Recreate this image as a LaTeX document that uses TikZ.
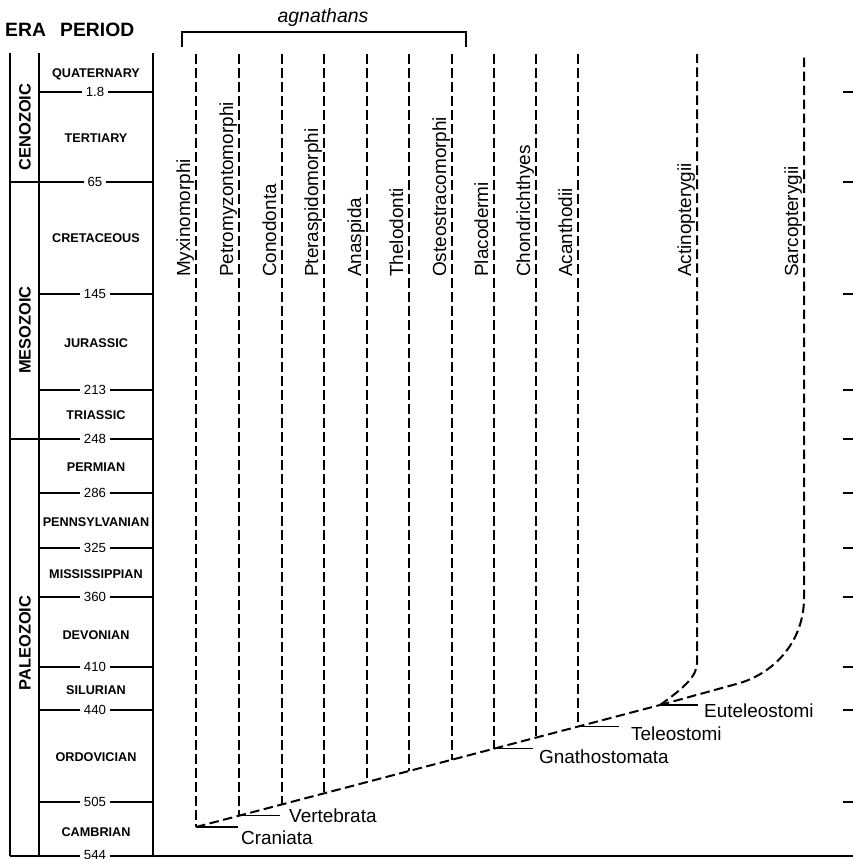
\documentclass[tikz,border=0pt]{standalone}
\usepackage{fontspec}
\setmainfont{Liberation Sans}
\begin{document}
\begin{tikzpicture}[x=1bp,y=-1bp,
  tbl/.style={line width=1.9bp},
  clade/.style={line width=2bp, dash pattern=on 9.5bp off 4.5bp},
  cltick/.style={line width=1.5bp},
  lbl/.style={font=\fontsize{19}{22}\selectfont, inner sep=0pt},
  vlbl/.style={lbl, rotate=90, anchor=base west},
  period/.style={font=\bfseries\fontsize{12.7}{14}\selectfont, inner sep=0pt, anchor=base},
  num/.style={font=\fontsize{13.3}{15}\selectfont, fill=white, inner xsep=4bp, inner ysep=0pt, anchor=base},
  era/.style={font=\bfseries\fontsize{16.5}{19}\selectfont, rotate=90, inner sep=0pt},
  head/.style={font=\bfseries\fontsize{19.4}{22}\selectfont, inner sep=0pt, anchor=base west}
]
\useasboundingbox (0,0) rectangle (853,859);
\fill[white] (0,0) rectangle (853,859);

% headings
\node[head] (hera) at (5,36) {ERA};
\node[head] (hper) at (60,36) {PERIOD};

% table frame
\coordinate (tl) at (10,53);
\coordinate (bl) at (10,856);
\coordinate (tm) at (39,53);
\coordinate (bm) at (39,856);
\coordinate (tr) at (153,53);
\coordinate (br) at (153,856);
\coordinate (bre) at (853,856);
\draw[tbl] (tl) -- (bl);
\draw[tbl] (tm) -- (bm);
\draw[tbl] (tr) -- (br);
\draw[tbl] (bl) -- (bre);

% era boundaries
\draw[tbl] (10,182) -- (153,182);
\draw[tbl] (10,439) -- (153,439);
% period boundaries
\foreach \y in {92,294,390,493,548,597,667,710,802}{
  \draw[tbl] (39,\y) -- (153,\y);
}
% right ticks
\foreach \y in {92,182,294,390,439,493,548,597,667,710,802}{
  \draw[cltick] (843,\y) -- (853,\y);
}
% boundary numbers
\foreach \y/\t in {92/1.8,182/65,294/145,390/213,439/248,493/286,548/325,597/360,667/410,710/440,802/505,855/544}{
  \node[num] at (95,\y+4.7) {\t};
}
% period names
\foreach \y/\t in {73/QUATERNARY,138/TERTIARY,238/CRETACEOUS,343/JURASSIC,415/TRIASSIC,467/PERMIAN,522/PENNSYLVANIAN,574/MISSISSIPPIAN,635/DEVONIAN,690/SILURIAN,757/ORDOVICIAN,832/CAMBRIAN}{
  \node[period] at (96,\y+4.5) {\t};
}
% eras
\node[era] (ceno) at (25,127) {CENOZOIC};
\node[era] (meso) at (25,330) {MESOZOIC};
\node[era] (pale) at (25,643) {PALEOZOIC};

% agnathans bracket
\coordinate (ag1) at (182,47);
\coordinate (ag2) at (182,32);
\coordinate (ag3) at (466,32);
\coordinate (ag4) at (466,47);
\draw[tbl] (ag1) -- (ag2) -- (ag3) -- (ag4);
\node[font=\itshape\fontsize{19.5}{22}\selectfont, inner sep=0pt, anchor=base] (agn) at (323,22) {agnathans};

% clade vertical lines ending on the stem
\foreach \n/\x/\yb/\name in {1/196/827/Myxinomorphi,2/239/815.7/Petromyzontomorphi,3/282/804.4/Conodonta,4/324/793.3/Pteraspidomorphi,5/367/782/Anaspida,6/409/771/Thelodonti,7/452/759.7/Osteostracomorphi,8/494/748.6/Placodermi,9/536/737.6/Chondrichthyes,10/578/726.5/Acanthodii}{
  \coordinate (top\n) at (\x,54);
  \coordinate (bot\n) at (\x,\yb);
  \draw[clade] (top\n) -- (bot\n);
  \node[vlbl] (lab\n) at (\x-6,277) {\name};
}
\coordinate (top11) at (697,54);
\coordinate (top12) at (804,54);
\node[vlbl] (lab11) at (691,277) {Actinopterygii};
\node[vlbl] (lab12) at (798,277) {Sarcopterygii};

% branch points
\coordinate (cran) at (196,827);
\coordinate (vert) at (239,815.7);
\coordinate (gnat) at (494,748.6);
\coordinate (tele) at (578,726.5);
\coordinate (eute) at (660,705);
\coordinate (aend) at (697,663);
\coordinate (sb1) at (740,683);
\coordinate (sb2) at (804,598);

% stem
\draw[clade] (cran) -- (eute);
\draw[clade] (eute) .. controls (684,688) and (697,676) .. (aend) -- (top11);
\draw[clade] (eute) -- (sb1) .. controls (776,672) and (804,640) .. (sb2) -- (top12);

% node ticks and labels
\draw[cltick] (cran) -- ++(42,0) coordinate (cranr);
\draw[cltick] (vert) -- ++(41,0) coordinate (vertr);
\draw[cltick] (gnat) -- ++(39,0) coordinate (gnatr);
\draw[cltick] (tele) -- ++(41,0) coordinate (teler);
\draw[cltick] (eute) -- ++(38,0) coordinate (euter);
\node[lbl, anchor=base west] (lcran) at (241,844) {Craniata};
\node[lbl, anchor=base west] (lvert) at (289,822) {Vertebrata};
\node[lbl, anchor=base west] (lgnat) at (539,763) {Gnathostomata};
\node[lbl, anchor=base west] (ltele) at (631,740) {Teleostomi};
\node[lbl, anchor=base west] (leute) at (704,717) {Euteleostomi};
\end{tikzpicture}
\end{document}
